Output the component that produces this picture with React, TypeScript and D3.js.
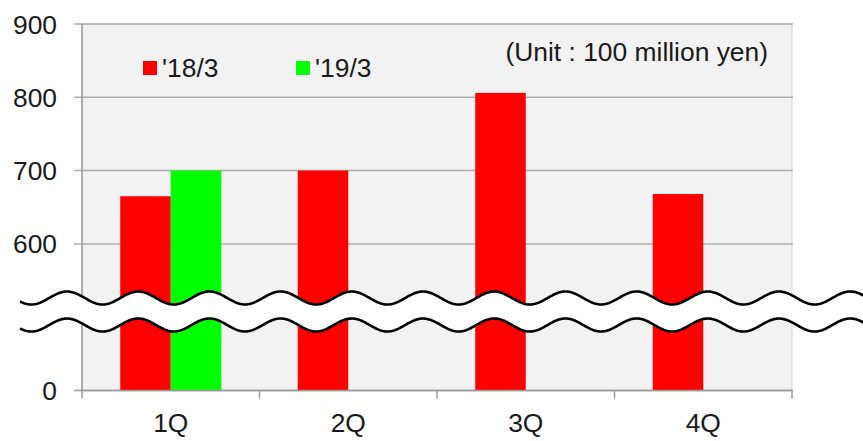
import React from "react";
import * as d3 from "d3";

// Quarterly values (unit: 100 million yen)
const quarters = ["1Q", "2Q", "3Q", "4Q"];
const seriesNames = ["'18/3", "'19/3"];
const fy18 = [665, 700, 806, 668];
const fy19: (number | null)[] = [700, null, null, null];
const seriesColors = ["#ff0000", "#00ff00"];

// Axis ticks: the bottom of the broken axis is labelled 0
const yTicks = [400, 500, 600, 700, 800, 900];
const yTickLabels = ["0", "", "600", "700", "800", "900"];

const W = 863;
const H = 441;
const margin = { left: 82, right: 71, top: 24, bottom: 50 };
const FONT = "'Liberation Sans', Arial, Helvetica, sans-serif";
const FS = 26.4;
const TEXT = "#1a1a1a";

export default function App() {
  const plotW = W - margin.left - margin.right;
  const plotBottom = 390.5;

  const x0 = d3.scaleBand<string>().domain(quarters).range([margin.left, margin.left + plotW]).padding(0);
  const x1 = d3
    .scaleBand<string>()
    .domain(seriesNames)
    .range([0, x0.bandwidth()])
    .paddingInner(0)
    .paddingOuter(0.757);
  const y = d3.scaleLinear().domain([400, 900]).range([plotBottom, margin.top]);

  const rows = quarters.map((q, i) => ({ q, values: [fy18[i], fy19[i]] }));

  // Break marker: two sine waves with a white band between them
  const period = 71.2;
  const amp = 6.5;
  const phase = 67;
  const xs = d3.range(20, W + 2, 1);
  const wave = (cy: number) =>
    xs.map((xv) => [xv, cy - amp * Math.cos((2 * Math.PI * (xv - phase)) / period)] as [number, number]);
  const topWave = wave(298);
  const botWave = wave(325);
  const line = d3.line();
  const band = topWave.concat(botWave.slice().reverse());

  return (
    <svg width={W} height={H} style={{ position: "absolute", left: 0, top: 0 }}>
      <rect x={0} y={0} width={W} height={H} fill="#ffffff" />
      {/* plot background */}
      <rect
        x={margin.left}
        y={margin.top}
        width={plotW}
        height={plotBottom - margin.top}
        fill="#f2f2f2"
        stroke="#d4d4d4"
        strokeWidth={1}
      />
      {/* gridlines + left tick marks */}
      {yTicks.map((t) => (
        <line
          key={t}
          x1={74}
          x2={margin.left + plotW + 1}
          y1={y(t)}
          y2={y(t)}
          stroke={t === 400 ? "#9a9a9a" : "#adadad"}
          strokeWidth={1.5}
        />
      ))}
      {/* bars */}
      {rows.map((r) =>
        r.values.map((v, si) =>
          v == null ? null : (
            <rect
              key={r.q + si}
              x={(x0(r.q) as number) + (x1(seriesNames[si]) as number)}
              y={y(v)}
              width={x1.bandwidth()}
              height={plotBottom - y(v)}
              fill={seriesColors[si]}
            />
          )
        )
      )}
      {/* axes */}
      <line x1={margin.left} x2={margin.left} y1={margin.top} y2={plotBottom} stroke="#9a9a9a" strokeWidth={1.5} />
      <line
        x1={margin.left}
        x2={margin.left + plotW}
        y1={plotBottom}
        y2={plotBottom}
        stroke="#9a9a9a"
        strokeWidth={1.5}
      />
      {quarters.concat(["end"]).map((q, i) => {
        const xv = margin.left + i * x0.step();
        return <line key={q} x1={xv} x2={xv} y1={plotBottom} y2={plotBottom + 8} stroke="#9a9a9a" strokeWidth={1.5} />;
      })}
      {/* y labels */}
      {yTicks.map((t, i) => (
        <text
          key={t}
          x={57}
          y={y(t)}
          dy="0.36em"
          textAnchor="end"
          fontFamily={FONT}
          fontSize={FS}
          fill={TEXT}
        >
          {yTickLabels[i]}
        </text>
      ))}
      {/* x labels */}
      {quarters.map((q) => (
        <text
          key={q}
          x={(x0(q) as number) + x0.bandwidth() / 2}
          y={431.5}
          textAnchor="middle"
          fontFamily={FONT}
          fontSize={FS}
          fill={TEXT}
        >
          {q}
        </text>
      ))}
      {/* legend */}
      {seriesNames.map((s, i) => {
        const lx = i === 0 ? 143 : 296;
        return (
          <g key={s}>
            <rect x={lx} y={61} width={14} height={14} fill={seriesColors[i]} />
            <text x={lx + 19} y={77} fontFamily={FONT} fontSize={FS} fill={TEXT}>
              {s}
            </text>
          </g>
        );
      })}
      <text x={768} y={61} textAnchor="end" fontFamily={FONT} fontSize={FS} fill={TEXT}>
        (Unit : 100 million yen)
      </text>
      {/* axis break */}
      <path d={"M" + band.map((p) => p.join(",")).join("L") + "Z"} fill="#ffffff" stroke="none" />
      <path d={line(topWave) || ""} fill="none" stroke="#000000" strokeWidth={2.6} />
      <path d={line(botWave) || ""} fill="none" stroke="#000000" strokeWidth={2.6} />
    </svg>
  );
}
